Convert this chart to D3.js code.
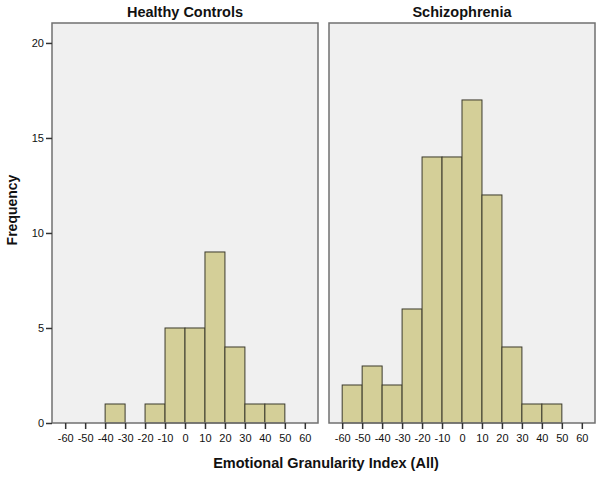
<!DOCTYPE html>
<html><head><meta charset="utf-8">
<script src="https://cdn.jsdelivr.net/npm/d3@7"></script>
<style>body{margin:0;background:#fff}svg{display:block}text{font-family:"Liberation Sans",Arial,sans-serif}</style>
</head><body>
<svg id="c" width="602" height="477"></svg>
<script>
const panels = ["Healthy Controls", "Schizophrenia"];
const binStarts = [-60, -50, -40, -30, -20, -10, 0, 10, 20, 30, 40];
const healthyCounts = [0, 0, 1, 0, 1, 5, 5, 9, 4, 1, 1];
const schizoCounts = [2, 3, 2, 6, 14, 14, 17, 12, 4, 1, 1];
const xTicks = [-60, -50, -40, -30, -20, -10, 0, 10, 20, 30, 40, 50, 60];
const yTicks = [0, 5, 10, 15, 20];
const binWidth = 10;

(function () {
const svg = d3.select("#c");
const series = [healthyCounts, schizoCounts];
const panelX = [[52, 318], [329, 595]];
const pTop = 23, pBottom = 423;
const y = d3.scaleLinear().domain([0, 21.05]).range([pBottom, pTop]);
const fmt = d => String(d);

panels.forEach((name, i) => {
  const [x0, x1] = panelX[i];
  const x = d3.scaleLinear().domain([-66.6, 66.6]).range([x0, x1]);
  const g = svg.append("g");
  g.append("rect").attr("x", x0).attr("y", pTop).attr("width", x1 - x0).attr("height", pBottom - pTop)
    .attr("fill", "#f0f0f0");
  g.selectAll("rect.bar").data(binStarts.map((b, k) => ({b, v: series[i][k]})).filter(d => d.v > 0))
    .enter().append("rect").attr("class", "bar")
    .attr("x", d => x(d.b)).attr("width", d => x(d.b + binWidth) - x(d.b))
    .attr("y", d => y(d.v)).attr("height", d => y(0) - y(d.v))
    .attr("fill", "#d4cf98").attr("stroke", "#3b3a2c").attr("stroke-width", 1);
  g.append("rect").attr("x", x0).attr("y", pTop).attr("width", x1 - x0).attr("height", pBottom - pTop)
    .attr("fill", "none").attr("stroke", "#707070").attr("stroke-width", 1.5);
  const xa = d3.axisBottom(x).tickValues(xTicks).tickFormat(fmt).tickSize(6).tickSizeOuter(0).tickPadding(5);
  const gx = g.append("g").attr("transform", `translate(0,${pBottom})`).call(xa);
  gx.select(".domain").remove();
  gx.selectAll(".tick line").attr("stroke", "#333").attr("stroke-width", 1.5);
  gx.selectAll("text").attr("font-size", 11).attr("fill", "#111");
  g.append("text").attr("x", (x0 + x1) / 2).attr("y", 17).attr("text-anchor", "middle")
    .attr("font-weight", "bold").attr("font-size", 14.5).attr("fill", "#111").text(name);
});

const ya = d3.axisLeft(y).tickValues(yTicks).tickFormat(fmt).tickSize(6).tickSizeOuter(0).tickPadding(2);
const gy = svg.append("g").attr("transform", `translate(${panelX[0][0]},0)`).call(ya);
gy.select(".domain").remove();
gy.selectAll(".tick line").attr("stroke", "#333").attr("stroke-width", 1.5);
gy.selectAll("text").attr("font-size", 11).attr("fill", "#111");

svg.append("text").attr("transform", "translate(17,210) rotate(-90)").attr("text-anchor", "middle")
  .attr("font-weight", "bold").attr("font-size", 14).attr("fill", "#111").text("Frequency");
svg.append("text").attr("x", 326).attr("y", 468).attr("text-anchor", "middle")
  .attr("font-weight", "bold").attr("font-size", 14.5).attr("fill", "#111").text("Emotional Granularity Index (All)");
})();
</script>
</body></html>
